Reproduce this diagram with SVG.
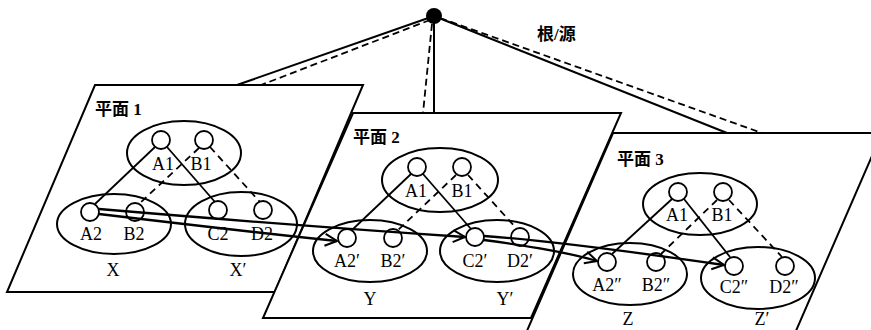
<svg xmlns="http://www.w3.org/2000/svg" width="871" height="330" viewBox="0 0 871 330">
<style>
.plane{fill:#fff;stroke:#000;stroke-width:2;stroke-linejoin:miter}
.ell{fill:none;stroke:#000;stroke-width:2}
.nd{fill:none;stroke:#000;stroke-width:1.8}
.lb{font-family:"Liberation Serif",serif;font-size:18px;fill:#000;text-anchor:middle}
.pl{font-family:"Liberation Serif","Noto Sans CJK SC",serif;font-size:17px;font-weight:bold;fill:#000}
.e{fill:none;stroke:#000;stroke-width:1.8}
.d{fill:none;stroke:#000;stroke-width:1.8;stroke-dasharray:7 5}
.rs{fill:none;stroke:#000;stroke-width:2}
.rd{fill:none;stroke:#000;stroke-width:1.8;stroke-dasharray:7 4}
.ar{fill:none;stroke:#000;stroke-width:2.3;marker-end:url(#arr)}
</style>
<defs>
<marker id="arr" viewBox="-14 -8 16 16" refX="0" refY="0" markerWidth="16" markerHeight="16" markerUnits="userSpaceOnUse" orient="auto">
<path d="M-12,-6 L0,0 L-12,6" fill="none" stroke="#000" stroke-width="2"/>
</marker>
</defs>

<g id="plane1"><polygon class="plane" points="95,85 363,85 275,292 7,292"/><text class="pl" x="95" y="115">平面 1</text></g>
<g id="plane2"><polygon class="plane" points="353,113 621,113 531,318 263,318"/><text class="pl" x="353" y="143">平面 2</text></g>
<g id="plane3"><polygon class="plane" points="613,133 882,133 792,340 523,340"/><text class="pl" x="617" y="165">平面 3</text></g>

<g id="root"><circle cx="434" cy="16" r="8" fill="#000"/><text class="pl" x="537" y="40">根/源</text></g>

<!-- plane 1 -->
<g id="p1-top"><ellipse class="ell" cx="184" cy="153" rx="57" ry="32"/></g>
<g id="p1-A1"><circle class="nd" cx="161" cy="140" r="9"/><text class="lb" x="163" y="170">A1</text></g>
<g id="p1-B1"><circle class="nd" cx="204" cy="140" r="9"/><text class="lb" x="201" y="170">B1</text></g>
<g id="p1-X"><ellipse class="ell" cx="114" cy="224" rx="57" ry="30"/><text class="lb" x="113" y="276">X</text></g>
<g id="p1-A2"><circle class="nd" cx="90" cy="212" r="9"/><text class="lb" x="91" y="240">A2</text></g>
<g id="p1-B2"><circle class="nd" cx="135" cy="212" r="9"/><text class="lb" x="134" y="240">B2</text></g>
<g id="p1-Xp"><ellipse class="ell" cx="241" cy="224" rx="56" ry="32"/><text class="lb" x="238" y="276">X′</text></g>
<g id="p1-C2"><circle class="nd" cx="218" cy="210" r="9"/><text class="lb" x="218" y="240">C2</text></g>
<g id="p1-D2"><circle class="nd" cx="263" cy="210" r="9"/><text class="lb" x="262" y="240">D2</text></g>

<!-- plane 2 -->
<g id="p2-top"><ellipse class="ell" cx="440" cy="180" rx="58" ry="32"/></g>
<g id="p2-A1"><circle class="nd" cx="417" cy="167" r="9"/><text class="lb" x="416" y="197">A1</text></g>
<g id="p2-B1"><circle class="nd" cx="462" cy="167" r="9"/><text class="lb" x="462" y="197">B1</text></g>
<g id="p2-Y"><ellipse class="ell" cx="370" cy="251" rx="57" ry="31"/><text class="lb" x="370" y="305">Y</text></g>
<g id="p2-A2"><circle class="nd" cx="347" cy="238" r="9"/><text class="lb" x="347" y="267">A2′</text></g>
<g id="p2-B2"><circle class="nd" cx="393" cy="238" r="9"/><text class="lb" x="393" y="267">B2′</text></g>
<g id="p2-Yp"><ellipse class="ell" cx="497" cy="251" rx="57" ry="31"/><text class="lb" x="505" y="305">Y′</text></g>
<g id="p2-C2"><circle class="nd" cx="475" cy="237" r="9"/><text class="lb" x="475" y="267">C2′</text></g>
<g id="p2-D2"><circle class="nd" cx="520" cy="237" r="9"/><text class="lb" x="520" y="267">D2′</text></g>

<!-- plane 3 -->
<g id="p3-top"><ellipse class="ell" cx="700" cy="204" rx="57" ry="31"/></g>
<g id="p3-A1"><circle class="nd" cx="678" cy="192" r="9"/><text class="lb" x="677" y="221">A1</text></g>
<g id="p3-B1"><circle class="nd" cx="723" cy="192" r="9"/><text class="lb" x="722" y="221">B1</text></g>
<g id="p3-Z"><ellipse class="ell" cx="630" cy="274" rx="57" ry="31"/><text class="lb" x="628" y="325">Z</text></g>
<g id="p3-A2"><circle class="nd" cx="607" cy="262" r="9"/><text class="lb" x="607" y="291">A2″</text></g>
<g id="p3-B2"><circle class="nd" cx="656" cy="262" r="9"/><text class="lb" x="656" y="291">B2″</text></g>
<g id="p3-Zp"><ellipse class="ell" cx="758" cy="278" rx="57" ry="31"/><text class="lb" x="762" y="325">Z′</text></g>
<g id="p3-C2"><circle class="nd" cx="734" cy="266" r="9"/><text class="lb" x="734" y="293">C2″</text></g>
<g id="p3-D2"><circle class="nd" cx="785" cy="266" r="9"/><text class="lb" x="784" y="293">D2″</text></g>

<g id="connectors">
<line class="rs" x1="434" y1="16" x2="237" y2="85"/>
<line class="rd" x1="430" y1="20" x2="261" y2="85"/>
<line class="rs" x1="434" y1="16" x2="434" y2="113"/>
<line class="rd" x1="432" y1="24" x2="423" y2="113"/>
<line class="rs" x1="434" y1="16" x2="727" y2="133"/>
<line class="rd" x1="440" y1="18" x2="762" y2="133"/>

<line class="e" x1="155" y1="147" x2="95" y2="204"/>
<line class="e" x1="167" y1="147" x2="215" y2="202"/>
<line class="d" x1="199" y1="148" x2="139" y2="204"/>
<line class="d" x1="210" y1="147" x2="260" y2="202"/>

<line class="e" x1="411" y1="174" x2="352" y2="230"/>
<line class="e" x1="423" y1="174" x2="471" y2="229"/>
<line class="d" x1="456" y1="175" x2="398" y2="230"/>
<line class="d" x1="468" y1="175" x2="517" y2="229"/>

<line class="e" x1="672" y1="199" x2="612" y2="254"/>
<line class="e" x1="684" y1="199" x2="730" y2="257"/>
<line class="d" x1="717" y1="200" x2="661" y2="254"/>
<line class="d" x1="729" y1="200" x2="782" y2="257"/>

<path class="ar" d="M99,209 Q300,226 465,237"/>
<path class="ar" d="M99,214 Q250,232 337,241"/>
<path class="ar" d="M484,236 C540,240 620,250 724,265"/>
<path class="ar" d="M484,240 Q560,250 597,261"/>
</g>
</svg>
